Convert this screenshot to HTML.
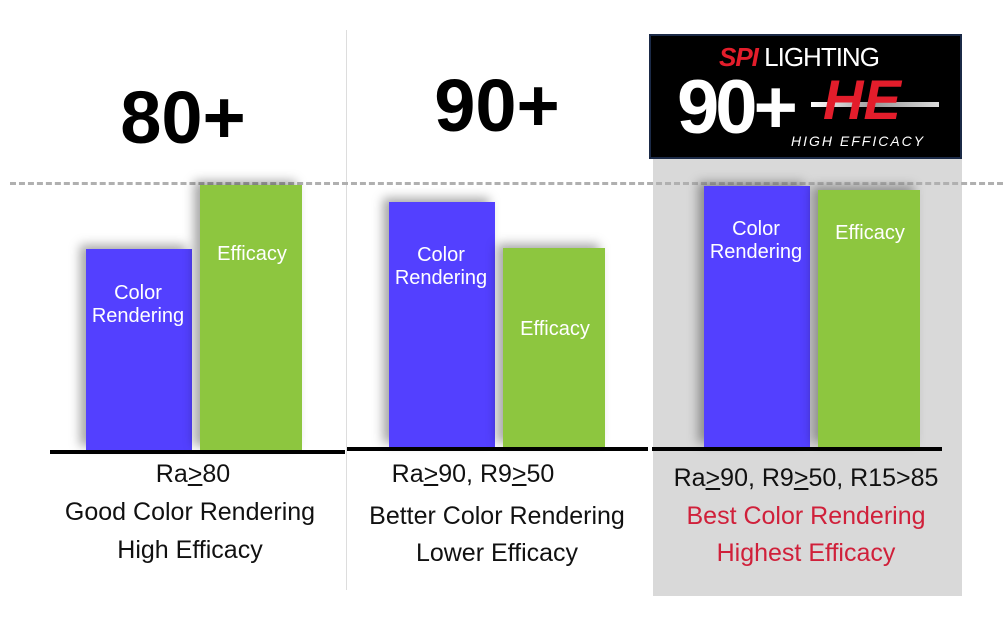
<!DOCTYPE html>
<html><head><meta charset="utf-8">
<style>
body{margin:0;width:1003px;height:626px;background:#fff;position:relative;overflow:hidden;font-family:"Liberation Sans",sans-serif}
.a{position:absolute}
.t{position:absolute;text-align:center;white-space:nowrap;transform:translateX(-50%)}
.bar{position:absolute;box-shadow:-6px -4px 10px rgba(0,0,0,0.35)}
.bl{position:absolute;color:#fff;font-size:20px;text-align:center;line-height:23px;transform:translateX(-50%);white-space:nowrap}
.lab{font-size:25px;color:#111;line-height:25px}
</style></head><body>
<div class="a" style="left:653px;top:155px;width:309px;height:441px;background:#d9d9d9"></div>
<div class="a" style="left:346px;top:30px;width:1px;height:560px;background:#ddd"></div>
<div class="a" style="left:10px;top:182px;width:993px;height:0;border-top:3px dashed #b0b0b0"></div>
<div class="a" style="left:649px;top:34px;width:309px;height:121px;background:#000;border:2px solid #1b2a47;overflow:hidden">
  <div class="a" style="left:68px;top:6px;font-size:26px;color:#fff;letter-spacing:-1px"><b style="color:#e31d2b;font-style:italic">SPI</b> LIGHTING</div>
  <div class="a" style="left:26px;top:32px;font-size:76px;font-weight:bold;color:#fff;letter-spacing:-4px;line-height:80px">90+</div>
  <div class="a" style="left:160px;top:66px;width:128px;height:5px;background:linear-gradient(90deg,#fff,#999,#ddd)"></div>
  <div class="a" style="left:172px;top:34px;font-size:56px;font-style:italic;color:#e31d2b;font-weight:bold;line-height:60px">HE</div>
  <div class="a" style="left:140px;top:97px;font-size:14px;font-style:italic;color:#fff;letter-spacing:2px">HIGH EFFICACY</div>
</div>
<div class="t" style="left:183px;top:78px;font-size:74px;font-weight:bold;line-height:80px">80+</div>
<div class="t" style="left:497px;top:66px;font-size:74px;font-weight:bold;line-height:80px">90+</div>
<div id="chart"></div>
<div class="t lab" style="left:193px;top:462px">Ra<u>&gt;</u>80</div>
<div class="t lab" style="left:190px;top:500px">Good Color Rendering</div>
<div class="t lab" style="left:190px;top:538px">High Efficacy</div>
<div class="t lab" style="left:473px;top:462px">Ra<u>&gt;</u>90, R9<u>&gt;</u>50</div>
<div class="t lab" style="left:497px;top:504px">Better Color Rendering</div>
<div class="t lab" style="left:497px;top:541px">Lower Efficacy</div>
<div class="t lab" style="left:806px;top:466px">Ra<u>&gt;</u>90, R9<u>&gt;</u>50, R15&gt;85</div>
<div class="t lab" style="left:806px;top:504px;color:#d0203a">Best Color Rendering</div>
<div class="t lab" style="left:806px;top:541px;color:#d0203a">Highest Efficacy</div>
<script>
const groups=["80+","90+","90+HE"];
const colorRendering=[76,92.5,98.5];
const efficacy=[100,75,97];
const groupLeft=[86,389,704];
const groupBase=[450,447,447];
const lineSpan=[[50,345],[347,648],[652,942]];
const scale=v=>v*2.65;
const c=document.getElementById('chart');
groups.forEach((g,i)=>{
  const ln=document.createElement('div');
  
  
  ln.className='a';
  ln.style.cssText=`left:${lineSpan[i][0]}px;top:${groupBase[i]}px;width:${lineSpan[i][1]-lineSpan[i][0]}px;height:4px;background:#000`;
  c.appendChild(ln);
  [[colorRendering[i],'#5340ff',0,'Color<br>Rendering'],[efficacy[i],'#8dc63f',114,'Efficacy']].forEach(([v,col,off,txt],k)=>{
    const h=scale(v),x=groupLeft[i]+off,top=groupBase[i]-h;
    const b=document.createElement('div');
    
    
    b.className='bar';
    b.style.cssText=`left:${x}px;top:${top}px;width:${k?102:106}px;height:${h}px;background:${col}`;
    c.appendChild(b);
    const t=document.createElement('div');
    
    
    t.className='bl';
    t.innerHTML=txt;
    t.style.left=(x+52)+'px';
    t.style.top=(top+(h>230?32:Math.min(h*0.2+20,70)))+'px';
    if(i==1&&k==1)t.style.top=(top+70)+'px';
    if(i==0&&k==0)t.style.top=(top+33)+'px';
    if(i==0&&k==1)t.style.top=(top+58)+'px';
    if(i==1&&k==0)t.style.top=(top+42)+'px';
    c.appendChild(t);
  });
});
</script>
</body></html>
